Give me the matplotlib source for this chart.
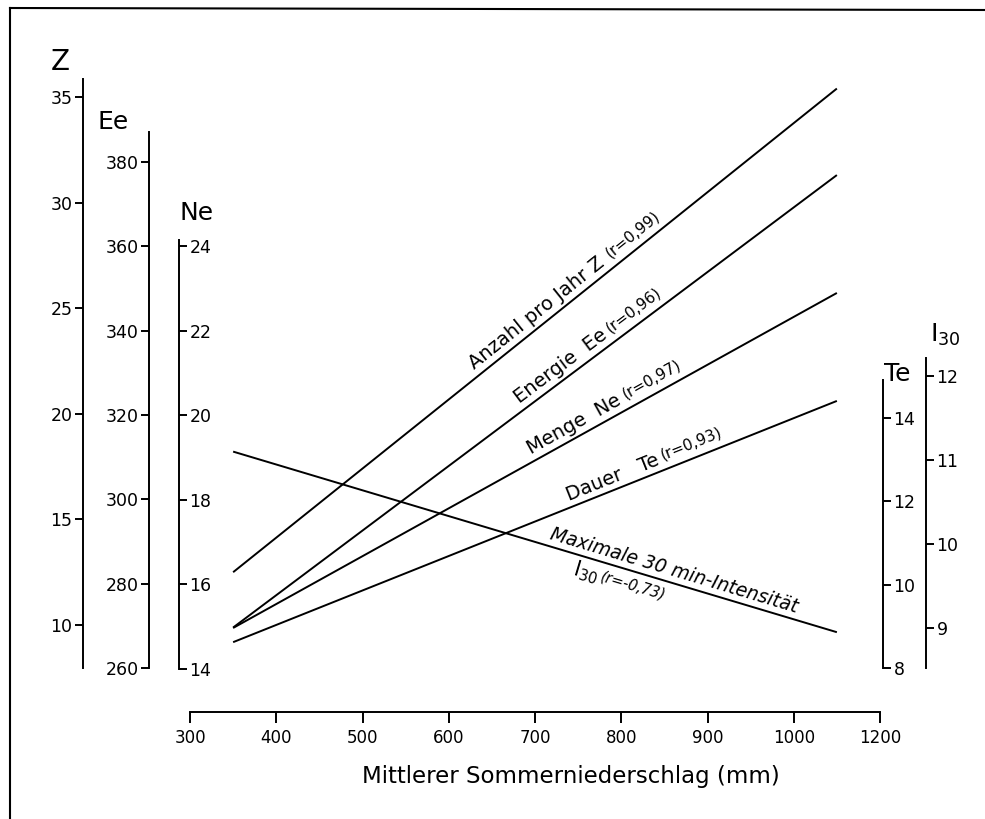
import numpy as np
import matplotlib
matplotlib.use("Agg")
import matplotlib.pyplot as plt
from matplotlib.lines import Line2D

plt.rcParams['font.family'] = ['DejaVu Sans']

# ---------------- data ----------------
x_ticks = [300, 400, 500, 600, 700, 800, 900, 1000, 1100]
x_ticklabels = ['300', '400', '500', '600', '700', '800', '900', '1000', '1200']
x_ends = [350, 1050]

z_vals = [12.5, 35.4]
ee_vals = [269.6, 376.9]
ne_vals = [14.97, 22.89]
te_vals = [8.62, 14.41]
i30_vals = [11.10, 8.95]

z_ticks = [10, 15, 20, 25, 30, 35]
ee_ticks = [260, 280, 300, 320, 340, 360, 380]
ne_ticks = [14, 16, 18, 20, 22, 24]
te_ticks = [8, 10, 12, 14]
i30_ticks = [9, 10, 11, 12]

xlabel = 'Mittlerer Sommerniederschlag (mm)'

# ---------------- layout (pixels) ----------------
W, H = 985, 819
AX_L, AX_R = 190, 880
AX_T, AX_B = 60, 712

fig = plt.figure(figsize=(W / 100, H / 100), dpi=100)
fig.patch.set_facecolor('white')
rect = [AX_L / W, 1 - AX_B / H, (AX_R - AX_L) / W, (AX_B - AX_T) / H]
ax = fig.add_axes(rect)
ax.set_xlim(300, 1100)
ax.patch.set_visible(False)


def make_scale(v1, p1, v2, p2):
    k = (v1 - v2) / (p2 - p1)

    def val(px):
        return v1 + (p1 - px) * k
    return val


def xfrac(px):
    return (px - AX_L) / (AX_R - AX_L)


LW_SP = 1.4
LW_LN = 1.4
TICKSIZE = 12.5

scales = {
    'z': make_scale(35, 97, 10, 625),
    'ee': make_scale(380, 162, 260, 668),
    'ne': make_scale(24, 246, 14, 669),
    'te': make_scale(14, 418, 8, 668),
    'i30': make_scale(12, 376, 9, 628),
}


def setup(a, key, side, spine_px, ticks, top_px, bot_px):
    s = scales[key]
    a.set_ylim(s(AX_B), s(AX_T))
    for sp in a.spines.values():
        sp.set_visible(False)
    sp = a.spines[side]
    sp.set_visible(True)
    sp.set_position(('axes', xfrac(spine_px)))
    sp.set_bounds(s(bot_px), s(top_px))
    sp.set_linewidth(LW_SP)
    a.yaxis.set_ticks_position(side)
    a.yaxis.set_label_position(side)
    a.set_yticks(ticks)
    a.set_yticklabels([str(t) for t in ticks])
    a.tick_params(axis='y', direction='out', length=6, width=LW_SP,
                  labelsize=TICKSIZE, pad=1.5)


# Z on main axes
setup(ax, 'z', 'left', 83, z_ticks, 79, 668)
ax.spines['bottom'].set_visible(True)
ax.spines['bottom'].set_linewidth(LW_SP)
ax.spines['bottom'].set_bounds(300, 1100)
ax.set_xticks(x_ticks)
ax.set_xticklabels(x_ticklabels)
ax.tick_params(axis='x', direction='out', length=8, width=LW_SP,
               labelsize=12, pad=4)

ax_ee = ax.twinx()
setup(ax_ee, 'ee', 'left', 149, ee_ticks, 132, 668)
ax_ne = ax.twinx()
setup(ax_ne, 'ne', 'right', 179, ne_ticks, 240, 669)
ax_te = ax.twinx()
setup(ax_te, 'te', 'right', 883, te_ticks, 380, 668)
ax_i30 = ax.twinx()
setup(ax_i30, 'i30', 'right', 926, i30_ticks, 358, 668)
for a in (ax_ee, ax_ne, ax_te, ax_i30):
    a.patch.set_visible(False)

# lines
series = [(ax, z_vals), (ax_ee, ee_vals), (ax_ne, ne_vals),
          (ax_te, te_vals), (ax_i30, i30_vals)]
for a, v in series:
    a.plot(x_ends, v, color='black', lw=LW_LN, solid_capstyle='butt')


def angle_of(a, vals):
    p1 = a.transData.transform((x_ends[0], vals[0]))
    p2 = a.transData.transform((x_ends[1], vals[1]))
    return np.degrees(np.arctan2(p2[1] - p1[1], p2[0] - p1[0]))


def label(a, vals, xm, text, size, ha, d, va='bottom', style='normal'):
    ang = angle_of(a, vals)
    ym = np.interp(xm, x_ends, vals)
    th = np.radians(ang)
    off = (-np.sin(th) * d, np.cos(th) * d)
    a.annotate(text, xy=(xm, ym), xytext=off, textcoords='offset points',
               rotation=ang, rotation_mode='anchor', ha=ha, va=va,
               fontsize=size, fontstyle=style)


MAIN = 14
SMALL = 11
label(ax, z_vals, 787, 'Anzahl pro Jahr Z', MAIN, 'right', 2)
label(ax, z_vals, 794, '(r=0,99)', SMALL, 'left', 5)
label(ax_ee, ee_vals, 790, 'Energie  Ee', MAIN, 'right', 2)
label(ax_ee, ee_vals, 794, '(r=0,96)', SMALL, 'left', 5)
label(ax_ne, ne_vals, 805, 'Menge  Ne', MAIN, 'right', 2)
label(ax_ne, ne_vals, 810, '(r=0,97)', SMALL, 'left', 5)
label(ax_te, te_vals, 848, 'Dauer   Te', MAIN, 'right', 2)
label(ax_te, te_vals, 853, '(r=0,93)', SMALL, 'left', 5)
label(ax_i30, i30_vals, 857, 'Maximale 30 min-Intensität', 13.5, 'center', 2,
      style='italic')
label(ax_i30, i30_vals, 778, r'$\mathregular{I_{30}}$', 15, 'right', -2, va='top')
label(ax_i30, i30_vals, 781, '(r=-0,73)', 10.5, 'left', -5, va='top', style='italic')

# axis titles


def ftext(px, py, s, size, **kw):
    fig.text(px / W, 1 - py / H, s, fontsize=size, ha='center', va='center', **kw)


ftext(60, 62, 'Z', 20)
ftext(113, 122, 'Ee', 18)
ftext(197, 213, 'Ne', 18)
ftext(897, 374, 'Te', 18)
ftext(945, 335, r'$\mathregular{I_{30}}$', 18)
ftext(571, 777, xlabel, 16.5)

# page frame
fig.add_artist(Line2D([10 / W, 10 / W], [0, 1 - 8 / H], transform=fig.transFigure,
                      color='black', lw=1.5))
fig.add_artist(Line2D([10 / W, 1.0], [1 - 8 / H, 1 - 10 / H], transform=fig.transFigure,
                      color='black', lw=1.5))

fig.savefig('out.png', dpi=100, facecolor='white')
